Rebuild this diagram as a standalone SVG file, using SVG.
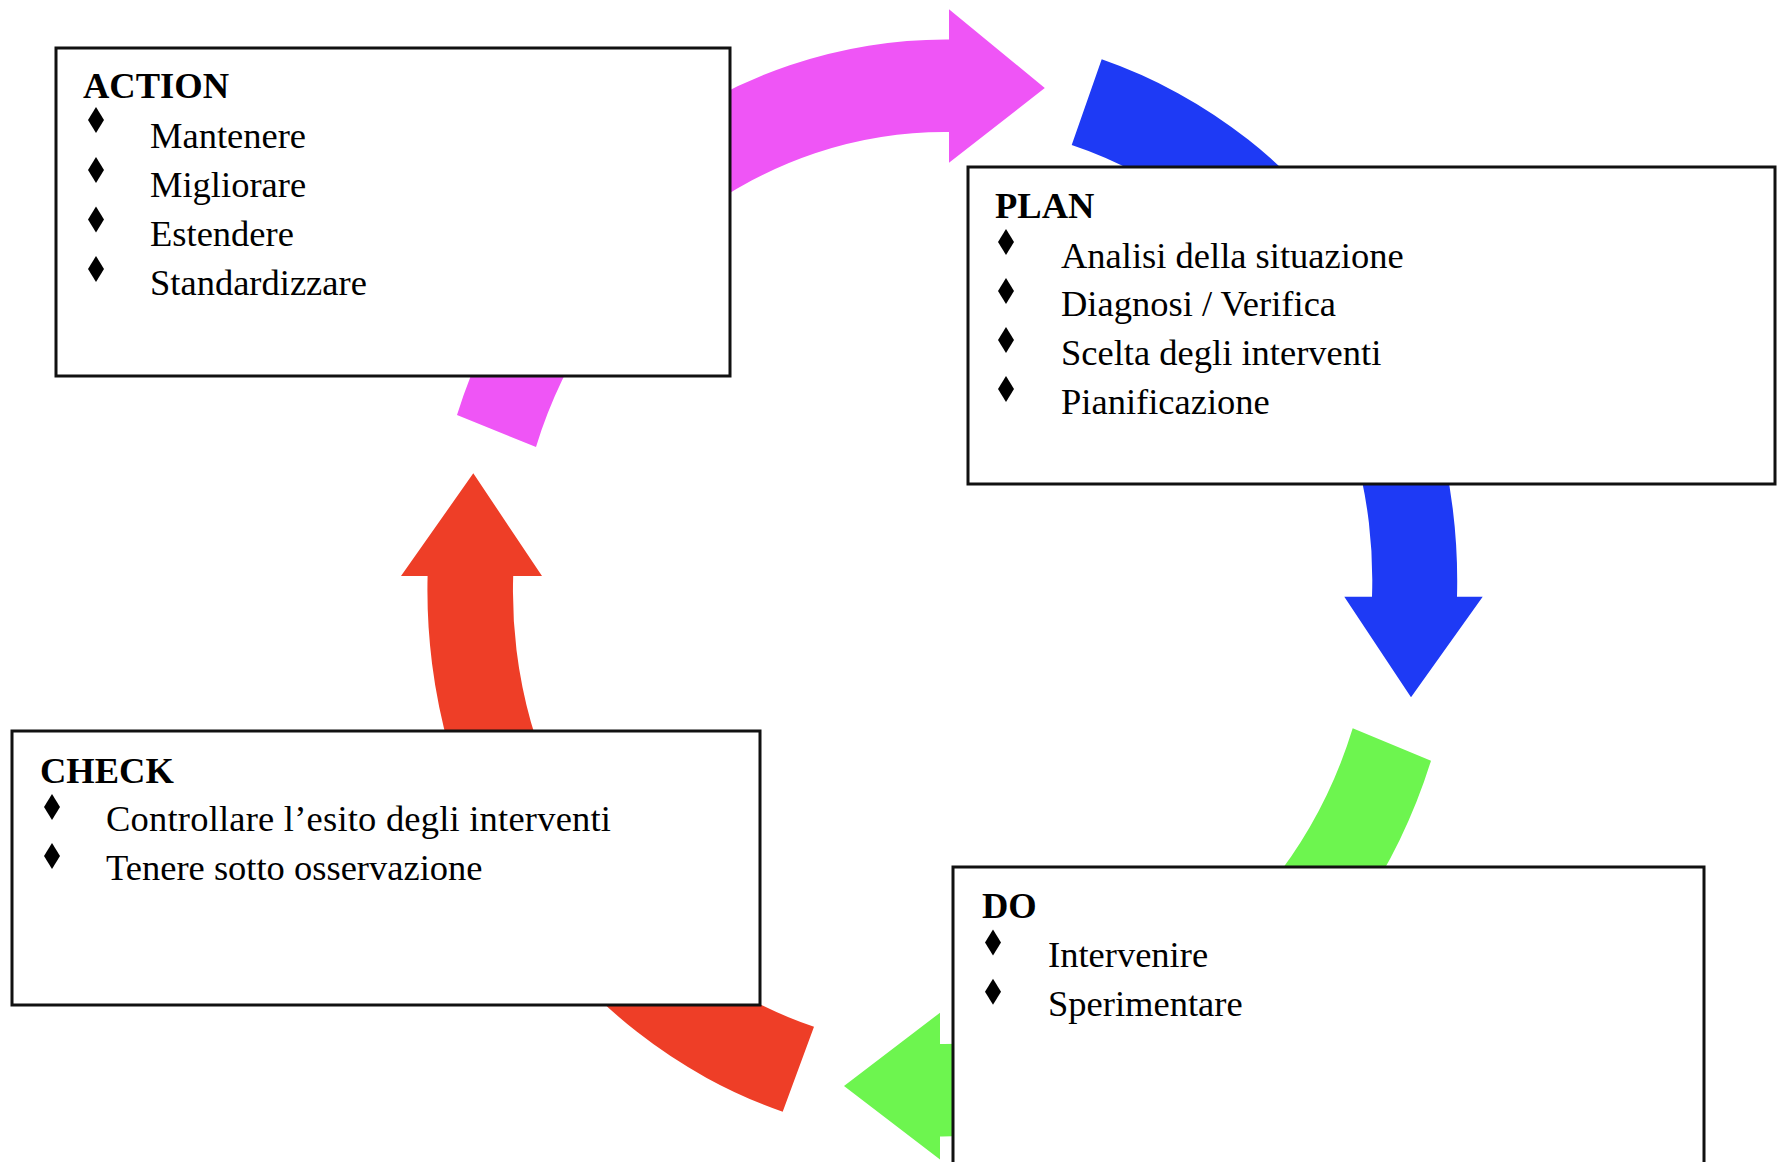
<svg xmlns="http://www.w3.org/2000/svg" width="1783" height="1162" viewBox="0 0 1783 1162">
<style>
.box{fill:#fff;stroke:#111;stroke-width:3}
.t{font-family:"Liberation Serif","Times New Roman",serif;font-size:36.5px;fill:#000}
.h{font-weight:bold}
.b{fill:#000}
</style>
<defs>
<polygon id="dia" points="0,-13 8,0 0,13 -8,0"/>
</defs>
<rect width="1783" height="1162" fill="#fff"/>
<g id="connectors">
<path id="act-plan" fill="#EF55F6" d="M457,415 A515,548.5 0 0 1 949,39.5 L949,9.3 L1044.8,88 L949,162.7 L949,132 A429.5,456 0 0 0 536,447 Z"/>
<path id="plan-do" fill="#1E3AF5" d="M1101.7,59.3 A515,548.5 0 0 1 1457,596.7 L1482.7,596.7 L1411,697.3 L1344.3,596.7 L1372,596.7 A429.5,456 0 0 0 1071.7,145 Z"/>
<path id="do-check" fill="#6DF54F" d="M1431,760.7 A515,548.5 0 0 1 940,1136.5 L940,1159.5 L844,1086 L940,1012.7 L940,1044 A429.5,456 0 0 0 1352.7,728.3 Z"/>
<path id="check-act" fill="#EE3E27" d="M782.7,1111.7 A515,548.5 0 0 1 427.6,576 L401,576 L473.3,473.3 L542,576 L513.2,576 A429.5,456 0 0 0 814,1026.7 Z"/>
</g>
<g id="action">
<rect class="box" x="56" y="48" width="674" height="328"/>
<text class="t h" x="83" y="98">ACTION</text>
<use href="#dia" class="b" x="96" y="120"/>
<use href="#dia" class="b" x="96" y="170"/>
<use href="#dia" class="b" x="96" y="219.5"/>
<use href="#dia" class="b" x="96" y="269"/>
<text class="t" x="150" y="147.5">Mantenere</text>
<text class="t" x="150" y="196.5">Migliorare</text>
<text class="t" x="150" y="245.5">Estendere</text>
<text class="t" x="150" y="294.5">Standardizzare</text>
</g>
<g id="plan">
<rect class="box" x="968" y="167" width="807" height="317"/>
<text class="t h" x="995" y="218">PLAN</text>
<use href="#dia" class="b" x="1006" y="242"/>
<use href="#dia" class="b" x="1006" y="291"/>
<use href="#dia" class="b" x="1006" y="340"/>
<use href="#dia" class="b" x="1006" y="389"/>
<text class="t" x="1061" y="267.5">Analisi della situazione</text>
<text class="t" x="1061" y="316.4">Diagnosi / Verifica</text>
<text class="t" x="1061" y="365.3">Scelta degli interventi</text>
<text class="t" x="1061" y="414">Pianificazione</text>
</g>
<g id="check">
<rect class="box" x="12" y="731" width="748" height="274"/>
<text class="t h" x="40" y="783">CHECK</text>
<use href="#dia" class="b" x="52" y="807"/>
<use href="#dia" class="b" x="52" y="856"/>
<text class="t" x="106" y="830.5" textLength="505">Controllare l’esito degli interventi</text>
<text class="t" x="106" y="880">Tenere sotto osservazione</text>
</g>
<g id="do">
<rect class="box" x="953" y="867" width="751" height="320"/>
<text class="t h" x="982" y="918">DO</text>
<use href="#dia" class="b" x="993" y="942.5"/>
<use href="#dia" class="b" x="993" y="991.7"/>
<text class="t" x="1048" y="967">Intervenire</text>
<text class="t" x="1048" y="1016">Sperimentare</text>
</g>
</svg>
